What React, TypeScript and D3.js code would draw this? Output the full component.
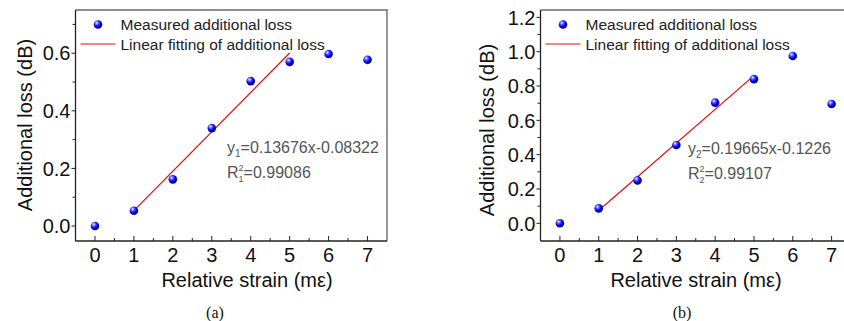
import React from "react";
import * as d3 from "d3";

const strain = [0, 1, 2, 3, 4, 5, 6, 7];
const lossA = [0.0, 0.053, 0.162, 0.34, 0.503, 0.57, 0.597, 0.577];
const lossB = [0.0, 0.087, 0.25, 0.456, 0.703, 0.84, 0.975, 0.695];
const fitA = { slope: 0.13676, intercept: -0.08322, from: 1, to: 5 };
const fitB = { slope: 0.19665, intercept: -0.1226, from: 1, to: 5 };
const yTicksA = [0, 0.2, 0.4, 0.6];
const yTicksB = [0, 0.2, 0.4, 0.6, 0.8, 1.0, 1.2];
const xTicks = [0, 1, 2, 3, 4, 5, 6, 7];
const legendLabels = ["Measured additional loss", "Linear fitting of additional loss"];
const eqA = { y: "y", sub: "1", eq: "=0.13676x-0.08322", r2: "=0.99086" };
const eqB = { y: "y", sub: "2", eq: "=0.19665x-0.1226", r2: "=0.99107" };

const FONT = "'Liberation Sans', Arial, Helvetica, sans-serif";

type PanelProps = {
  id: string;
  left: number;
  right: number;
  top: number;
  bottom: number;
  yDomain: [number, number];
  yTicks: number[];
  values: number[];
  fit: { slope: number; intercept: number; from: number; to: number };
  eq: { y: string; sub: string; eq: string; r2: string };
  eqX: number;
  eqY: number;
  yTitleX: number;
  yTitleY: number;
  xTitleX: number;
  caption: string;
  captionX: number;
  showRight: boolean;
};

function Panel(p: PanelProps) {
  const x = d3.scaleLinear().domain([-0.5, 7.5]).range([p.left, p.right]);
  const y = d3.scaleLinear().domain(p.yDomain).range([p.bottom, p.top]);
  const minorY = d3.range(p.yTicks[0] + 0.1, p.yDomain[1], 0.2).filter((v) => v < p.yDomain[1]);
  const minorX = d3.range(-0.5 + 1, 7.5, 1).map((v) => v);
  const line = d3
    .line<number>()
    .x((d) => x(d))
    .y((d) => y(p.fit.slope * d + p.fit.intercept));
  const fitPts = [p.fit.from, p.fit.to];
  const gid = `ball-${p.id}`;
  return (
    <g>
      <defs>
        <radialGradient id={gid} cx="38%" cy="35%" r="70%" fx="35%" fy="30%">
          <stop offset="0%" stopColor="#ffffff" />
          <stop offset="25%" stopColor="#6a6aff" />
          <stop offset="60%" stopColor="#0000ee" />
          <stop offset="100%" stopColor="#00007a" />
        </radialGradient>
      </defs>
      {/* frame */}
      <line x1={p.left} x2={p.right + 1} y1={p.top} y2={p.top} stroke="#222" strokeWidth={1.2} />
      {p.showRight && (
        <line x1={p.right} x2={p.right} y1={p.top} y2={p.bottom} stroke="#777" strokeWidth={1.5} />
      )}
      <line x1={p.left} x2={p.left} y1={p.top} y2={p.bottom} stroke="#222" strokeWidth={1.3} />
      <line x1={p.left} x2={p.right} y1={p.bottom} y2={p.bottom} stroke="#222" strokeWidth={1.3} />
      {/* y ticks */}
      {p.yTicks.map((t) => (
        <g key={`yt${t}`}>
          <line x1={p.left - 4} x2={p.left} y1={y(t)} y2={y(t)} stroke="#222" strokeWidth={1} />
          <text
            x={p.left - 5}
            y={y(t)}
            dy="0.36em"
            textAnchor="end"
            fontSize={20}
            fontFamily={FONT}
            fill="#111"
          >
            {t.toFixed(1)}
          </text>
        </g>
      ))}
      {minorY.map((t) => (
        <line key={`ym${t}`} x1={p.left - 3} x2={p.left} y1={y(t)} y2={y(t)} stroke="#222" strokeWidth={1} />
      ))}
      {/* x ticks */}
      {xTicks.map((t) => (
        <g key={`xt${t}`}>
          <line x1={x(t)} x2={x(t)} y1={p.bottom} y2={p.bottom - 5} stroke="#222" strokeWidth={1} />
          <text
            x={x(t)}
            y={p.bottom + 21}
            textAnchor="middle"
            fontSize={20}
            fontFamily={FONT}
            fill="#111"
          >
            {t}
          </text>
        </g>
      ))}
      {minorX.map((t) => (
        <line key={`xm${t}`} x1={x(t)} x2={x(t)} y1={p.bottom} y2={p.bottom - 3} stroke="#222" strokeWidth={1} />
      ))}
      {/* axis titles */}
      <text
        x={p.xTitleX}
        y={p.bottom + 46}
        textAnchor="middle"
        fontSize={20}
        fontFamily={FONT}
        fill="#111"
      >
        Relative strain (mε)
      </text>
      <text
        transform={`translate(${p.yTitleX},${p.yTitleY}) rotate(-90)`}
        textAnchor="middle"
        dy="0.36em"
        fontSize={20}
        fontFamily={FONT}
        fill="#111"
      >
        Additional loss (dB)
      </text>
      {/* fit line */}
      <path d={line(fitPts) || ""} fill="none" stroke="#e01010" strokeWidth={1.3} />
      {/* points */}
      {strain.map((s, i) => (
        <circle key={`pt${i}`} cx={x(s)} cy={y(p.values[i])} r={4.3} fill={`url(#${gid})`} />
      ))}
      {/* legend */}
      <circle cx={p.left + 22.5} cy={p.top + 14.5} r={4.3} fill={`url(#${gid})`} />
      <text x={p.left + 45} y={p.top + 20} fontSize={15.5} fontFamily={FONT} fill="#222">
        {legendLabels[0]}
      </text>
      <line x1={p.left + 5} x2={p.left + 40} y1={p.top + 34} y2={p.top + 34} stroke="#e01010" strokeWidth={1.2} />
      <text x={p.left + 45} y={p.top + 40} fontSize={15.5} fontFamily={FONT} fill="#222">
        {legendLabels[1]}
      </text>
      {/* equation */}
      <text x={p.eqX} y={p.eqY} fontSize={16} fontFamily={FONT} fill="#555">
        {p.eq.y}
        <tspan fontSize={10} dy={4}>
          {p.eq.sub}
        </tspan>
        <tspan dy={-4}>{p.eq.eq}</tspan>
      </text>
      <text x={p.eqX} y={p.eqY + 25} fontSize={16} fontFamily={FONT} fill="#555">
        R
        <tspan fontSize={9} dy={-7}>
          2
        </tspan>
        <tspan fontSize={9} dx={-5} dy={11}>
          {p.eq.sub}
        </tspan>
        <tspan dy={-4}>{p.eq.r2}</tspan>
      </text>
      <text
        x={p.captionX}
        y={318}
        textAnchor="middle"
        fontSize={16}
        fontFamily="'Liberation Serif', 'Times New Roman', serif"
        fill="#111"
      >
        {p.caption}
      </text>
    </g>
  );
}

export default function App() {
  return (
    <svg
      width={844}
      height={321}
      style={{ position: "absolute", left: 0, top: 0, background: "#fff" }}
    >
      <rect width={844} height={321} fill="#fff" />
      <Panel
        id="a"
        left={75.5}
        right={387}
        top={10}
        bottom={241}
        yDomain={[-0.052, 0.75]}
        yTicks={yTicksA}
        values={lossA}
        fit={fitA}
        eq={eqA}
        eqX={227}
        eqY={153}
        yTitleX={25}
        yTitleY={125}
        xTitleX={247}
        caption="(a)"
        captionX={215}
        showRight={true}
      />
      <Panel
        id="b"
        left={540.5}
        right={851}
        top={10}
        bottom={241}
        yDomain={[-0.103, 1.243]}
        yTicks={yTicksB}
        values={lossB}
        fit={fitB}
        eq={eqB}
        eqX={688}
        eqY={154}
        yTitleX={487}
        yTitleY={130}
        xTitleX={696}
        caption="(b)"
        captionX={682}
        showRight={false}
      />
    </svg>
  );
}
